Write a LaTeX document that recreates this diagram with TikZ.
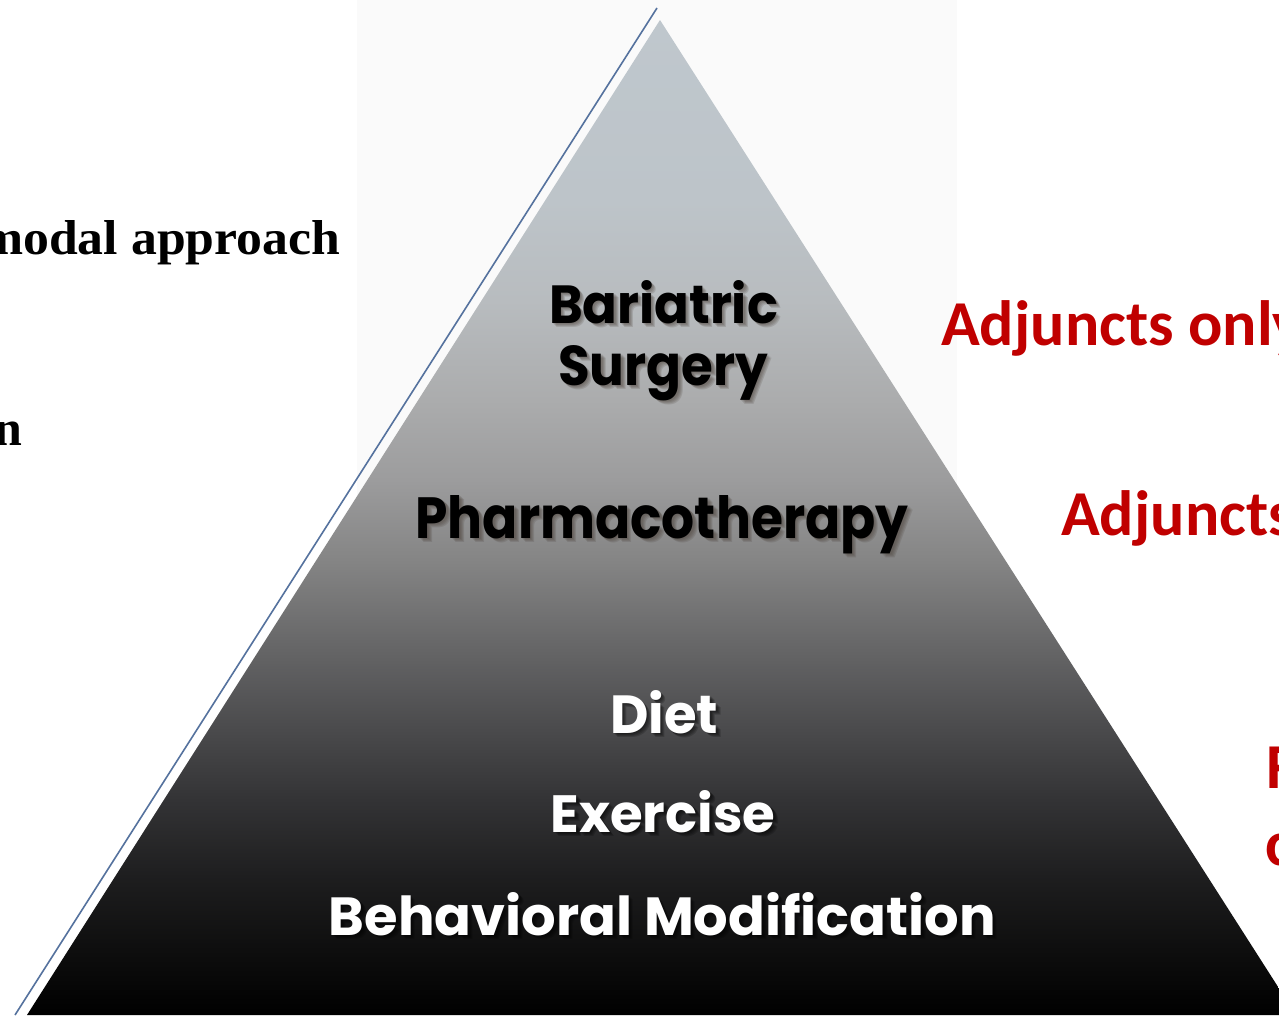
\documentclass[tikz,border=0pt]{standalone}
\usepackage{fontspec}
\setmainfont{Liberation Serif}
\newfontfamily\pyrfont{Poppins}
\newfontfamily\calfont{Carlito}
\usepackage{graphicx}
\definecolor{redtxt}{HTML}{C00000}
\definecolor{boxbg}{HTML}{FAFAFA}
\definecolor{edgeblue}{HTML}{55729E}
\definecolor{sA}{HTML}{0E0E0E}
\definecolor{sB}{HTML}{1D1D1E}
\definecolor{sC}{HTML}{333335}
\definecolor{sD}{HTML}{4D4D4F}
\definecolor{sE}{HTML}{686869}
\definecolor{sF}{HTML}{858585}
\definecolor{sG}{HTML}{9C9C9D}
\definecolor{sH}{HTML}{ABACAD}
\definecolor{sI}{HTML}{B8BCBF}
\definecolor{sJ}{HTML}{BDC4C9}
\definecolor{sK}{HTML}{BFC7CD}
\definecolor{darkshadow}{HTML}{4A4038}
\pgfdeclareverticalshading{pyrshade}{100bp}{%
  color(0bp)=(black); color(25bp)=(black);
  color(28.27bp)=(sA); color(31.8bp)=(sB); color(35.8bp)=(sC);
  color(39.8bp)=(sD); color(43.8bp)=(sE); color(47.9bp)=(sF);
  color(51.9bp)=(sG); color(55.9bp)=(sH); color(60.9bp)=(sI);
  color(65.9bp)=(sJ); color(75bp)=(sK); color(100bp)=(sK)}
\tikzset{
  pyrtxt/.style={font=\pyrfont\bfseries\fontsize{60}{60}\selectfont, anchor=base, inner sep=0pt},
  sidetxt/.style={font=\bfseries\fontsize{50}{50}\selectfont, anchor=base west, inner sep=0pt, text=black},
  redlab/.style={font=\calfont\bfseries\fontsize{64}{64}\selectfont, anchor=base west, inner sep=0pt, text=redtxt},
  blueedge/.style={draw=edgeblue, line width=1.6pt}
}
\newcommand{\pyrlab}[8]{%
  \foreach \d/\k in {1.5/a,2.5/b,3.5/c,4.5/d}{%
    \node[pyrtxt, text=#8, opacity=0.18] (#1sh\k) at (#2+\d, #3+\d) {\resizebox{#4pt}{#5pt}{#6}};
  }
  \node[pyrtxt, text=#7] (#1) at (#2,#3) {\resizebox{#4pt}{#5pt}{#6}};
}
\begin{document}
\begin{tikzpicture}[x=1pt, y=-1pt]
  \useasboundingbox (0,0) rectangle (1279,1015);
  \clip (0,0) rectangle (1279,1015);
  \fill[white] (0,0) rectangle (1279,1015);
  % light backdrop of the pasted picture
  \fill[boxbg] (357,0) rectangle (957,1015);
  % pyramid
  \coordinate (apex) at (660,20);
  \coordinate (bl) at (27,1015);
  \coordinate (br) at (1296,1015);
  \shade[shading=pyrshade] (apex) -- (bl) -- (br) -- cycle;
  \coordinate (edgetop) at (657,8);
  \coordinate (edgebot) at (15,1015);
  \draw[blueedge] (edgetop) -- (edgebot);
  % pyramid labels
  \pyrlab{bar}{663.5}{323}{229}{43}{Bariatric}{black}{darkshadow}
  \pyrlab{sur}{663}{385}{210}{40}{Surgery}{black}{darkshadow}
  \pyrlab{pha}{662}{538}{493}{43}{Pharmacotherapy}{black}{darkshadow}
  \pyrlab{die}{664}{733}{108}{43}{Diet}{white}{black}
  \pyrlab{exe}{663}{832}{225}{42}{Exercise}{white}{black}
  \pyrlab{beh}{662.5}{935}{667}{43}{Behavioral Modification}{white}{black}
  % left side text (cut by the frame)
  \node[sidetxt] (modal) at (-20,254) {\resizebox{360pt}{34pt}{modal approach}};
  \node[sidetxt, anchor=base east] (ntail) at (23,445) {n};
  % right side red labels (cut by the frame)
  \node[redlab] (adj1) at (941,345) {Adjuncts only};
  \node[redlab] (adj2) at (1061,535) {Adjuncts};
  \node[redlab] (fcut) at (1266,788) {F};
  \node[redlab] (ccut) at (1265,865) {c};
\end{tikzpicture}
\end{document}
